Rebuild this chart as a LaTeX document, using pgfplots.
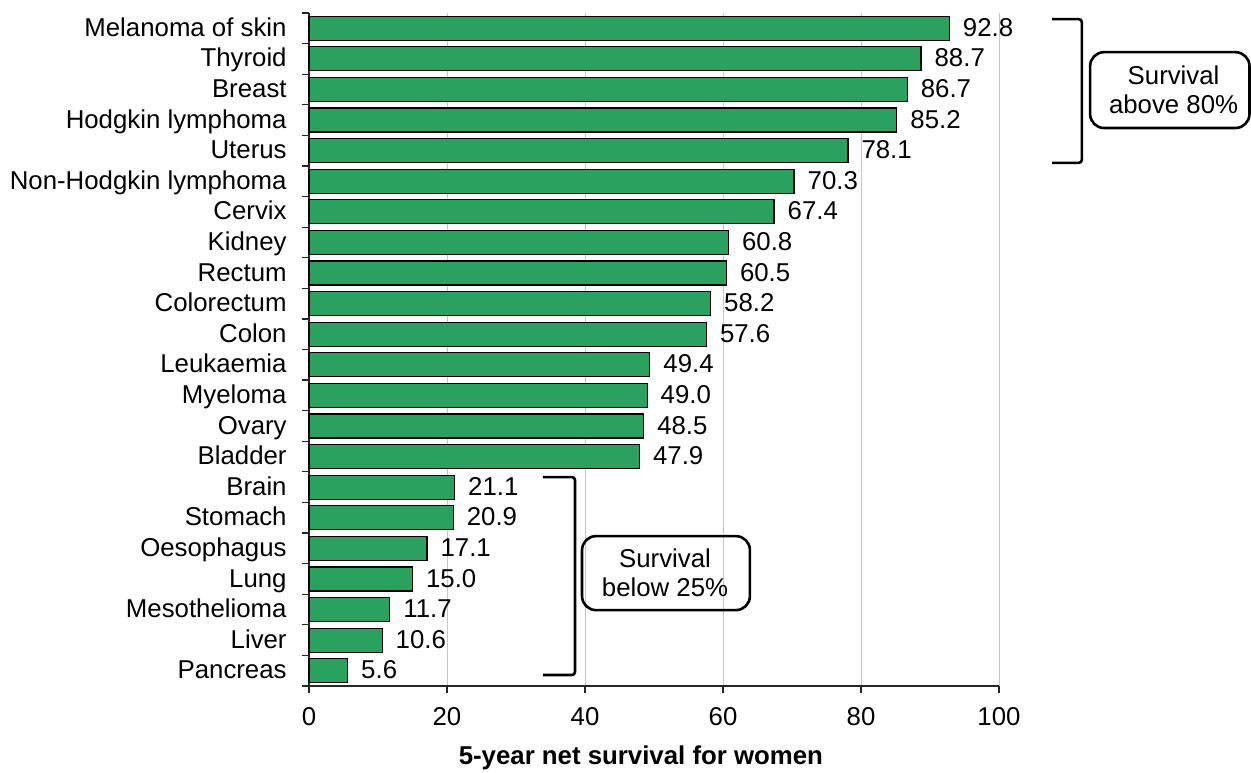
\documentclass[border=0pt]{standalone}
\usepackage{pgfplots}
\pgfplotsset{compat=1.18}
\usepackage{fontspec}
\setmainfont{Liberation Sans}
\definecolor{bargreen}{RGB}{42,161,94}
\newcommand{\chartfont}{\fontsize{12.9}{15.5}\selectfont}
\pgfplotsset{/pgf/number format/assume math mode=true}
\pgfplotstableread{
y val
21 92.8
20 88.7
19 86.7
18 85.2
17 78.1
16 70.3
15 67.4
14 60.8
13 60.5
12 58.2
11 57.6
10 49.4
9 49.0
8 48.5
7 47.9
6 21.1
5 20.9
4 17.1
3 15.0
2 11.7
1 10.6
0 5.6
}\survival
\begin{document}
\begin{tikzpicture}[font=\chartfont]
\useasboundingbox (0,0) rectangle (625.5pt,386pt);
\begin{axis}[
  at={(154.5pt,43pt)}, anchor=south west,
  scale only axis, width=345pt, height=336.5pt,
  xbar, bar width=12pt,
  xmin=0, xmax=100, ymin=-0.5, ymax=21.5,
  clip=false,
  axis x line*=bottom, axis y line*=left,
  axis line style={black!85, line width=0.6pt},
  tick align=outside,
  major tick length=3.5pt,
  tick style={black!85, line width=0.6pt},
  xtick={0,20,...,100},
  xmajorgrids=true,
  grid style={black!22, line width=0.5pt},
  ytick={-0.5,0.5,...,21.5},
  yticklabels={},
  extra y ticks={0,...,21},
  extra y tick labels={Pancreas,Liver,Mesothelioma,Lung,Oesophagus,Stomach,Brain,Bladder,Ovary,Myeloma,Leukaemia,Colon,Colorectum,Rectum,Kidney,Cervix,Non-Hodgkin lymphoma,Uterus,Hodgkin lymphoma,Breast,Thyroid,Melanoma of skin},
  extra y tick style={tick style={draw=none}, ymajorgrids=false},
  yticklabel style={font=\chartfont, anchor=east, inner sep=0pt, xshift=-7.5pt, text height=10.8pt, text depth=2.7pt},
  xticklabel style={font=\chartfont, anchor=north, inner sep=0pt, yshift=-7pt},
  xlabel={\textbf{5-year net survival for women}},
  x label style={at={(axis description cs:0.481,0)}, anchor=center, yshift=-36pt, font=\chartfont},
  nodes near coords={\pgfmathprintnumber[fixed,fixed zerofill,precision=1]{\pgfplotspointmeta}},
  nodes near coords align={horizontal},
  every node near coord/.append style={font=\chartfont, anchor=west, inner sep=0pt, xshift=6.5pt, black, text height=10.8pt, text depth=2.7pt},
]
\addplot[fill=bargreen, draw=black, line width=0.6pt] table[x=val, y=y] {\survival};

\draw[line width=1.3pt, rounded corners=1.5pt] (axis cs:107.7,21.30) -- (axis cs:112,21.30) -- (axis cs:112,16.6) -- (axis cs:107.7,16.6);
\draw[line width=1.3pt, rounded corners=7pt] (axis cs:113.2,20.22) rectangle (axis cs:136.3,17.74);
\node[align=center, font=\fontsize{12.9}{14.5}\selectfont] at (axis cs:125.3,19.0) {Survival\\above 80\%};

\draw[line width=1.3pt, rounded corners=1.5pt] (axis cs:33.9,6.33) -- (axis cs:38.55,6.33) -- (axis cs:38.55,-0.14) -- (axis cs:33.9,-0.14);
\draw[line width=1.3pt, rounded corners=7pt] (axis cs:39.57,4.40) rectangle (axis cs:63.9,1.98);
\node[align=center, font=\fontsize{12.9}{14.5}\selectfont] at (axis cs:51.6,3.21) {Survival\\below 25\%};
\end{axis}
\end{tikzpicture}
\end{document}
